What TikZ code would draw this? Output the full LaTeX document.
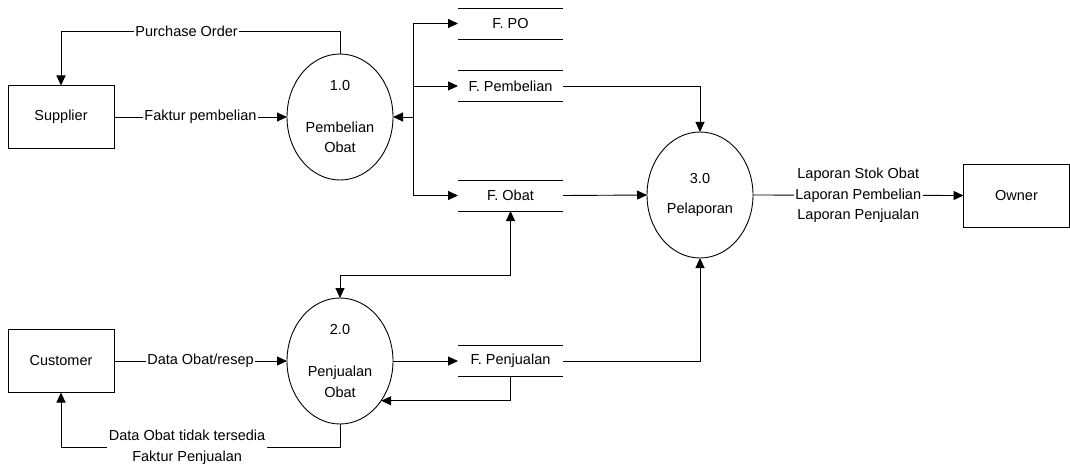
\documentclass[tikz,border=0pt]{standalone}
\usepackage{fontspec}
\setmainfont{Liberation Sans}
\usetikzlibrary{arrows.meta,shapes.geometric,calc}
\begin{document}
\begin{tikzpicture}[x=1pt,y=-1pt,
  every node/.style={font=\fontsize{14.5}{20.5}\selectfont, inner sep=0pt, outer sep=0pt},
  every path/.style={line width=0.9pt},
  entity/.style={draw, minimum width=106pt, minimum height=63pt},
  proc/.style={draw, ellipse, minimum width=106pt, minimum height=126pt, align=center},
  store/.style={minimum width=105pt, minimum height=31pt},
  arr/.style={-{Triangle[length=10pt,width=9pt]}},
  arrb/.style={{Triangle[length=10pt,width=9pt]}-{Triangle[length=10pt,width=9pt]}},
  lbl/.style={fill=white, inner sep=1.5pt, align=center}]
\useasboundingbox (0,0) rectangle (1070,468);
% entities
\node[entity] (sup) at (61,117) {Supplier};
\node[entity] (cust) at (61,361) {Customer};
\node[entity] (own) at (1016.5,195.5) {Owner};
% processes
\node[proc] (p1) at (340,117) {1.0\\[21pt]Pembelian\\Obat};
\node[proc] (p2) at (340,361) {2.0\\[22pt]Penjualan\\Obat};
\node[proc] (p3) at (700,195) {3.0\\[10pt]Pelaporan};
% data stores
\node[store] (fpo) at (510.5,23.5) {F. PO};
\node[store] (fpb) at (510.5,86) {F. Pembelian};
\node[store] (fob) at (510.5,195.5) {F. Obat};
\node[store] (fpj) at (510.5,361) {F. Penjualan};
\foreach \n in {fpo,fpb,fob,fpj}
  \draw (\n.north west) -- (\n.north east) (\n.south west) -- (\n.south east);
% flows
\draw[arr] (p1.north) -- ++(0,-23) -| node[lbl,pos=0.275] {Purchase Order} (sup.north);
\draw[arr] (sup.east) -- node[lbl] {Faktur pembelian} (p1.west);
\coordinate (br) at (413,117);
\draw[arr] (br) -- (p1.east);
\draw[arr] (br) |- (fpo.west);
\draw[arr] (br) |- (fpb.west);
\draw[arr] (br) |- (fob.west);
\draw[arr] (fpb.east) -| (p3.north);
\draw[arr] (fob.east) -- (p3.west);
\draw[arr] (fpj.east) -| (p3.south);
\draw[arr] (p3.east) -- node[lbl] {Laporan Stok Obat\\Laporan Pembelian\\Laporan Penjualan} (own.west);
\draw[arrb] (fob.south) -- ++(0,64) -| (p2.north);
\draw[arr] (cust.east) -- node[lbl] {Data Obat/resep} (p2.west);
\draw[arr] (p2.east) -- (fpj.west);
\draw[arr] (fpj.south) |- (p2.-44);
\draw[arr] (p2.south) -- ++(0,23) -| node[lbl,pos=0.274] {Data Obat tidak tersedia\\Faktur Penjualan} (cust.south);
\end{tikzpicture}
\end{document}
